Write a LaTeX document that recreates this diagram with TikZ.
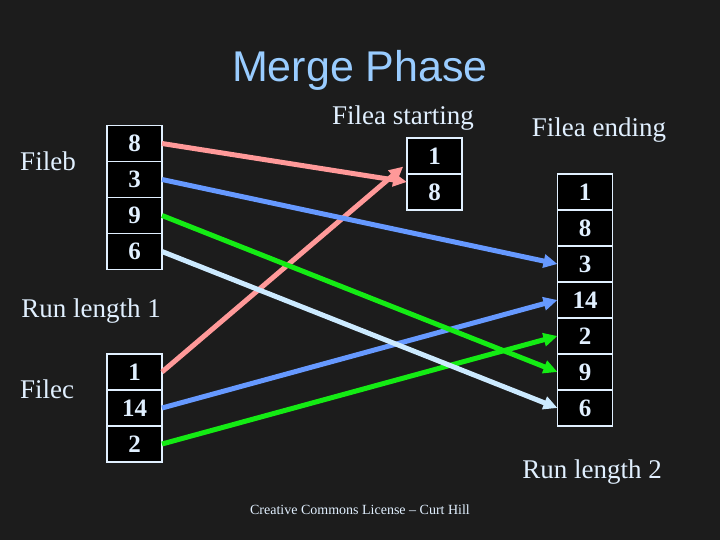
\documentclass[tikz,border=0pt]{standalone}
\usepackage{fontspec}
\setmainfont{Liberation Serif}
\newfontfamily\titlefont{Liberation Sans}
\usepackage{tikz}
\usetikzlibrary{positioning,arrows.meta}
\definecolor{bgdark}{RGB}{28,28,28}
\definecolor{paletext}{RGB}{225,240,255}
\definecolor{titleblue}{RGB}{153,204,255}
\definecolor{pinkarr}{RGB}{255,153,153}
\definecolor{bluearr}{RGB}{102,153,255}
\definecolor{greenarr}{RGB}{20,235,20}
\definecolor{palearr}{RGB}{204,234,255}

\begin{document}
\begin{tikzpicture}[
  x=1pt,y=-1pt,
  cell/.style={draw=paletext,fill=black,line width=1.5pt,minimum width=55pt,minimum height=36pt,
    inner sep=0pt,outer sep=0pt,text=paletext,font=\fontsize{25}{27}\selectfont\bfseries},
  lbl/.style={text=paletext,inner sep=0pt,font=\fontsize{27}{30}\selectfont},
  arr/.style={-{Triangle[length=14pt,width=13pt]},line width=5pt}
]
  \fill[bgdark] (0,0) rectangle (720,540);

  \node[text=titleblue,font=\titlefont\fontsize{43}{46}\selectfont] (title) at (360,70) {Merge Phase};

  % input runs
  \node[lbl] (fileb) at (48,161) {Fileb};
  \node[cell] (b1) at (134.5,143.5) {8};
  \node[cell,below=0pt of b1] (b2) {3};
  \node[cell,below=0pt of b2] (b3) {9};
  \node[cell,below=0pt of b3] (b4) {6};
  \node[lbl] (run1) at (91,311) {Run length 1};

  \node[lbl] (filec) at (47,389) {Filec};
  \node[cell] (c1) at (134.5,372) {1};
  \node[cell,below=0pt of c1] (c2) {14};
  \node[cell,below=0pt of c2] (c3) {2};

  % output file
  \node[lbl] (fstart) at (403,118) {Filea starting};
  \node[cell] (s1) at (434.5,156) {1};
  \node[cell,below=0pt of s1] (s2) {8};

  \node[lbl] (fend) at (599,130) {Filea ending};
  \node[cell] (e1) at (585,192) {1};
  \node[cell,below=0pt of e1] (e2) {8};
  \node[cell,below=0pt of e2] (e3) {3};
  \node[cell,below=0pt of e3] (e4) {14};
  \node[cell,below=0pt of e4] (e5) {2};
  \node[cell,below=0pt of e5] (e6) {9};
  \node[cell,below=0pt of e6] (e7) {6};
  \node[lbl] (run2) at (592,472) {Run length 2};

  \node[text=paletext,font=\fontsize{14}{16}\selectfont] (lic) at (360,510)
    {Creative Commons License -- Curt Hill};

  % merge moves
  \draw[arr,pinkarr] (b1.east) -- (s2.160);
  \draw[arr,pinkarr,shorten >=5pt] (c1.east) -- (s1.195);
  \draw[arr,bluearr] (b2.east) -- (e3.west);
  \draw[arr,bluearr] (c2.east) -- (e4.west);
  \draw[arr,greenarr] (b3.east) -- (e6.west);
  \draw[arr,greenarr] (c3.east) -- (e5.west);
  \draw[arr,palearr] (b4.east) -- (e7.west);
\end{tikzpicture}
\end{document}
